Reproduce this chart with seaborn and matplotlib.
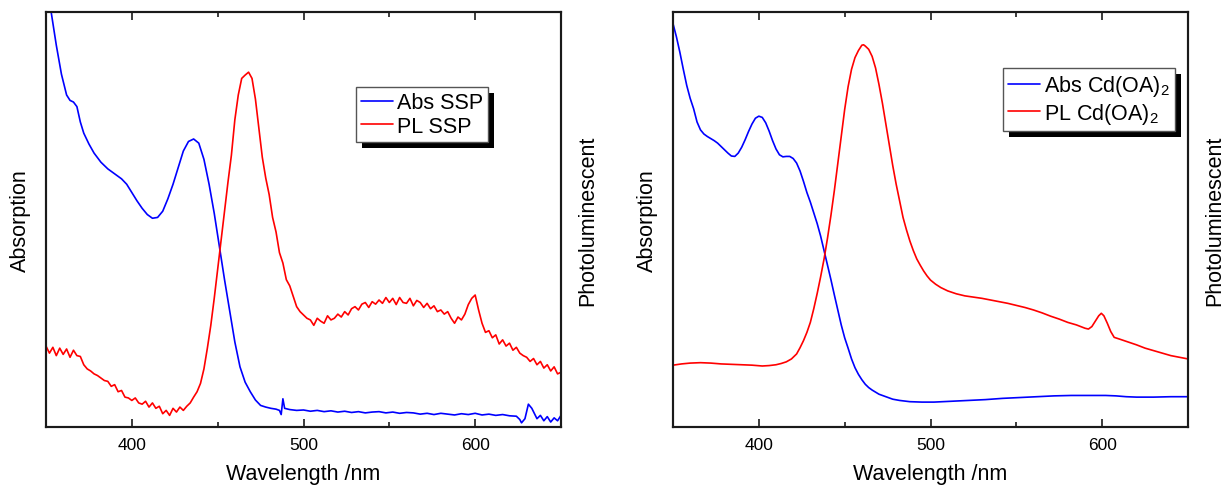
import numpy as np
import pandas as pd
import seaborn as sns
import matplotlib
matplotlib.use("Agg")
import matplotlib.pyplot as plt
from matplotlib.ticker import MultipleLocator
from matplotlib.patches import Rectangle
from matplotlib.transforms import IdentityTransform

# ---------------- data (arbitrary intensity units, 0-1 per axis) ----------------
# SSP sample: absorption spectrum
abs_ssp_nm = [350, 353, 356, 359, 362, 364, 366, 368, 370, 372, 375, 378, 382, 386, 390,
              394, 397, 400, 403, 406, 409, 412, 415, 418, 421, 424, 427, 430, 433, 436,
              439, 442, 445, 448, 451, 454, 457, 460, 463, 466, 469, 472, 475, 478, 481,
              484, 486, 487, 488, 489, 492, 496, 500, 504, 508, 512, 516, 520, 524, 528,
              532, 536, 540, 544, 548, 552, 556, 560, 564, 568, 572, 576, 580, 584, 588,
              592, 596, 600, 604, 608, 612, 616, 620, 624, 626, 627, 629, 631, 633, 636,
              638, 640, 642, 644, 646, 648, 650]
abs_ssp = [1.08, 1.00, 0.92, 0.85, 0.80, 0.787, 0.783, 0.772, 0.735, 0.708, 0.682, 0.660,
           0.638, 0.622, 0.610, 0.598, 0.585, 0.565, 0.545, 0.527, 0.512, 0.503, 0.505,
           0.520, 0.550, 0.585, 0.625, 0.665, 0.688, 0.694, 0.684, 0.645, 0.585, 0.515,
           0.435, 0.355, 0.280, 0.205, 0.145, 0.108, 0.085, 0.065, 0.052, 0.048, 0.045,
           0.043, 0.040, 0.030, 0.068, 0.045, 0.042, 0.040, 0.041, 0.038, 0.040, 0.037,
           0.039, 0.036, 0.038, 0.035, 0.037, 0.034, 0.036, 0.037, 0.034, 0.036, 0.033,
           0.035, 0.034, 0.031, 0.033, 0.030, 0.033, 0.031, 0.029, 0.032, 0.030, 0.033,
           0.029, 0.031, 0.028, 0.030, 0.027, 0.026, 0.018, 0.010, 0.020, 0.055, 0.045,
           0.020, 0.028, 0.015, 0.025, 0.012, 0.022, 0.015, 0.028]

# SSP sample: photoluminescence spectrum, sampled every 2 nm
pl_ssp_nm = np.arange(350, 651, 2)
pl_ssp = [0.195, 0.178, 0.192, 0.172, 0.190, 0.175, 0.188, 0.168, 0.185, 0.172,
          0.170, 0.150, 0.140, 0.135, 0.128, 0.124, 0.118, 0.112, 0.110, 0.098,
          0.102, 0.085, 0.088, 0.072, 0.070, 0.064, 0.070, 0.058, 0.055, 0.062,
          0.048, 0.058, 0.045, 0.050, 0.032, 0.040, 0.028, 0.045, 0.036, 0.048,
          0.040, 0.050, 0.058, 0.072, 0.085, 0.105, 0.140, 0.190, 0.245, 0.310,
          0.380, 0.450, 0.520, 0.590, 0.655, 0.740, 0.800, 0.840, 0.848, 0.855,
          0.840, 0.790, 0.720, 0.650, 0.600, 0.560, 0.505, 0.470, 0.420, 0.395,
          0.355, 0.340, 0.315, 0.290, 0.278, 0.270, 0.262, 0.258, 0.245, 0.262,
          0.255, 0.250, 0.268, 0.258, 0.262, 0.272, 0.265, 0.278, 0.270, 0.285,
          0.290, 0.282, 0.296, 0.300, 0.288, 0.302, 0.296, 0.306, 0.298, 0.312,
          0.300, 0.310, 0.295, 0.312, 0.300, 0.298, 0.310, 0.292, 0.305, 0.300,
          0.288, 0.298, 0.285, 0.292, 0.278, 0.282, 0.272, 0.278, 0.262, 0.250,
          0.265, 0.258, 0.272, 0.295, 0.310, 0.318, 0.282, 0.250, 0.228, 0.232,
          0.215, 0.222, 0.200, 0.210, 0.195, 0.202, 0.185, 0.192, 0.178, 0.172,
          0.168, 0.158, 0.165, 0.150, 0.158, 0.142, 0.150, 0.135, 0.145, 0.128,
          0.132]

# Cd(OA)2 sample: absorption spectrum
abs_cd_nm = [350, 352, 354, 356, 358, 360, 362, 364, 366, 368, 370, 372, 374, 376, 378,
             380, 382, 384, 386, 388, 390, 392, 394, 396, 398, 400, 402, 404, 406, 408,
             410, 412, 414, 416, 418, 420, 422, 424, 426, 428, 430, 432, 434, 436, 438,
             440, 442, 444, 446, 448, 450, 452, 454, 456, 458, 460, 462, 464, 466, 468,
             470, 474, 478, 482, 488, 495, 502, 512, 522, 532, 542, 552, 562, 572, 582,
             592, 602, 608, 614, 620, 630, 640, 650]
abs_cd = [0.972, 0.940, 0.903, 0.862, 0.823, 0.792, 0.767, 0.735, 0.716, 0.706, 0.700,
          0.695, 0.690, 0.684, 0.676, 0.668, 0.660, 0.653, 0.652, 0.660, 0.674, 0.692,
          0.712, 0.730, 0.744, 0.749, 0.746, 0.733, 0.713, 0.690, 0.670, 0.656, 0.651,
          0.652, 0.652, 0.647, 0.636, 0.617, 0.592, 0.565, 0.542, 0.516, 0.490, 0.460,
          0.425, 0.390, 0.355, 0.318, 0.282, 0.246, 0.215, 0.190, 0.164, 0.143, 0.127,
          0.114, 0.103, 0.095, 0.089, 0.084, 0.079, 0.073, 0.067, 0.064, 0.061, 0.060,
          0.060, 0.062, 0.064, 0.066, 0.069, 0.071, 0.073, 0.075, 0.076, 0.076, 0.076,
          0.075, 0.073, 0.072, 0.072, 0.073, 0.073]

# Cd(OA)2 sample: photoluminescence spectrum
pl_cd_nm = [350, 355, 360, 366, 372, 378, 384, 390, 396, 402, 406, 410, 413, 416, 419,
            422, 424, 426, 428, 430, 432, 434, 436, 438, 440, 442, 444, 446, 448, 450,
            452, 454, 456, 458, 460, 461, 462, 464, 466, 468, 470, 472, 474, 476, 478,
            480, 482, 484, 486, 488, 490, 492, 494, 496, 498, 500, 503, 506, 510, 515,
            520, 525, 530, 535, 540, 545, 550, 555, 560, 565, 570, 575, 580, 585, 590,
            592, 594, 596, 598, 599.5, 601, 603, 605, 607, 610, 615, 620, 625, 630, 635,
            640, 645, 650]
pl_cd = [0.149, 0.152, 0.154, 0.155, 0.154, 0.152, 0.151, 0.150, 0.149, 0.147, 0.148,
         0.150, 0.153, 0.157, 0.164, 0.176, 0.191, 0.208, 0.228, 0.252, 0.285, 0.322,
         0.362, 0.405, 0.455, 0.510, 0.570, 0.635, 0.700, 0.765, 0.820, 0.862, 0.890,
         0.907, 0.920, 0.921, 0.918, 0.910, 0.893, 0.865, 0.825, 0.780, 0.730, 0.680,
         0.630, 0.585, 0.545, 0.505, 0.475, 0.448, 0.425, 0.405, 0.390, 0.376, 0.364,
         0.354, 0.344, 0.336, 0.328, 0.321, 0.316, 0.313, 0.310, 0.306, 0.302, 0.298,
         0.293, 0.288, 0.282, 0.275, 0.267, 0.260, 0.252, 0.246, 0.238, 0.236, 0.242,
         0.255, 0.268, 0.274, 0.268, 0.250, 0.230, 0.216, 0.212, 0.205, 0.198, 0.190,
         0.184, 0.178, 0.172, 0.168, 0.164]

xticks = [400, 500, 600]
abs_labels = ["Abs SSP", r"Abs Cd(OA)$_\mathregular{2}$"]
pl_labels = ["PL SSP", r"PL Cd(OA)$_\mathregular{2}$"]

# ---------------- styling ----------------
sns.set_style("white")
plt.rcParams["font.family"] = ["Liberation Sans", "DejaVu Sans"]
plt.rcParams["mathtext.fontset"] = "custom"
plt.rcParams["mathtext.rm"] = "Liberation Sans"
plt.rcParams["mathtext.it"] = "Liberation Sans:italic"
plt.rcParams["mathtext.bf"] = "Liberation Sans:bold"
plt.rcParams["text.color"] = "black"
plt.rcParams["axes.labelcolor"] = "black"
plt.rcParams["xtick.color"] = "black"
plt.rcParams["xtick.labelcolor"] = "black"

BLUE = "#0000ff"
RED = "#ff0000"
SPINE = "#1a1a1a"

fig = plt.figure(figsize=(12.25, 4.89), dpi=100)
ax_l = fig.add_axes([46 / 1225, 61 / 489, 515 / 1225, 415 / 489])
ax_r = fig.add_axes([673 / 1225, 61 / 489, 515 / 1225, 415 / 489])

panels = [
    (ax_l, abs_ssp_nm, abs_ssp, pl_ssp_nm, pl_ssp, 0, (0.602, 0.819)),
    (ax_r, abs_cd_nm, abs_cd, pl_cd_nm, pl_cd, 1, (0.641, 0.865)),
]

for ax, ax_nm, ax_vals, pl_nm, pl_vals, idx, anchor in panels:
    ax2 = ax.twinx()
    sns.lineplot(x=ax_nm, y=ax_vals, ax=ax, color=BLUE, lw=1.2,
                 label=abs_labels[idx], legend=False)
    sns.lineplot(x=list(pl_nm), y=pl_vals, ax=ax2, color=RED, lw=1.2,
                 label=pl_labels[idx], legend=False)

    for a in (ax, ax2):
        a.set_xlim(350, 650)
        a.set_ylim(0, 1)
        a.set_yticks([])
        for s in a.spines.values():
            s.set_linewidth(1.5)
            s.set_color(SPINE)
            s.set_visible(True)

    ax.set_xticks(xticks)
    ax.xaxis.set_minor_locator(MultipleLocator(50))
    ax.tick_params(axis="x", which="both", direction="in", top=True, bottom=True,
                   color=SPINE, labelsize=12.5, pad=7)
    ax.tick_params(axis="x", which="major", length=6, width=1.2)
    ax.tick_params(axis="x", which="minor", length=3.5, width=1.2)

    ax.set_xlabel("Wavelength /nm", fontsize=15.5, labelpad=8)
    ax.set_ylabel("Absorption", fontsize=15.5, labelpad=11)
    ax2.set_ylabel("Photoluminescent", fontsize=15.5, labelpad=12)

    handles = ax.get_lines()[:1] + ax2.get_lines()[:1]
    leg = ax2.legend(handles, [abs_labels[idx], pl_labels[idx]],
                     loc="upper left", bbox_to_anchor=anchor,
                     fontsize=15.5, frameon=True, fancybox=False, framealpha=1.0,
                     facecolor="white", labelcolor="black",
                     handlelength=1.45, handletextpad=0.2, labelspacing=0.1,
                     borderpad=0.25, borderaxespad=0.0)
    leg.get_frame().set_edgecolor("#555555")
    leg.get_frame().set_linewidth(1.0)
    leg.set_zorder(10)
    ax._legend_ref = leg
    ax._twin_ref = ax2

# solid offset shadow behind each legend box
fig.canvas.draw()
for ax in (ax_l, ax_r):
    leg = ax._legend_ref
    bb = leg.get_frame().get_window_extent()
    off = 6
    shadow = Rectangle((bb.x0 + off, bb.y0 - off), bb.width, bb.height,
                       transform=IdentityTransform(), facecolor="black",
                       edgecolor="none", zorder=9.5, clip_on=False)
    ax._twin_ref.add_patch(shadow)

fig.savefig("out.png", dpi=100, facecolor="white")
